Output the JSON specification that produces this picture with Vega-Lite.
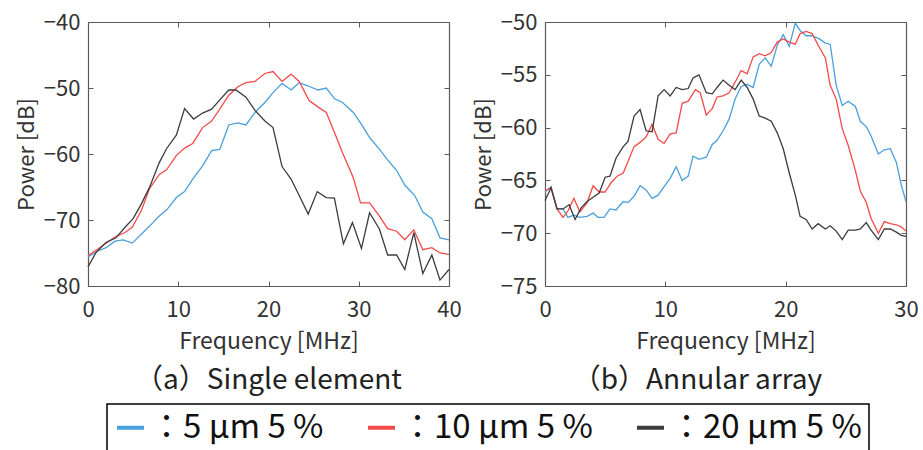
{
  "$schema": "https://vega.github.io/schema/vega-lite/v6.json",
  "padding": {"left": 15, "top": 11, "right": 4, "bottom": 0},
  "autosize": {"type": "pad"},
  "bounds": "flush",
  "spacing": 96,
  "datasets": {
    "single": [
      {"f":0,"p":-75.6,"s":"5 µm 5 %"},{"f":1.1,"p":-74.7,"s":"5 µm 5 %"},{"f":2.0,"p":-74.2,"s":"5 µm 5 %"},{"f":3.0,"p":-73.2,"s":"5 µm 5 %"},{"f":3.9,"p":-73.0,"s":"5 µm 5 %"},{"f":4.9,"p":-73.5,"s":"5 µm 5 %"},{"f":6.1,"p":-71.9,"s":"5 µm 5 %"},{"f":7.2,"p":-70.4,"s":"5 µm 5 %"},{"f":7.9,"p":-69.4,"s":"5 µm 5 %"},{"f":8.7,"p":-68.5,"s":"5 µm 5 %"},{"f":9.8,"p":-66.6,"s":"5 µm 5 %"},{"f":10.7,"p":-65.7,"s":"5 µm 5 %"},{"f":11.6,"p":-63.8,"s":"5 µm 5 %"},{"f":12.7,"p":-61.8,"s":"5 µm 5 %"},{"f":13.7,"p":-59.5,"s":"5 µm 5 %"},{"f":14.6,"p":-59.3,"s":"5 µm 5 %"},{"f":15.6,"p":-55.6,"s":"5 µm 5 %"},{"f":16.6,"p":-55.3,"s":"5 µm 5 %"},{"f":17.5,"p":-55.6,"s":"5 µm 5 %"},{"f":18.5,"p":-53.7,"s":"5 µm 5 %"},{"f":19.6,"p":-52.2,"s":"5 µm 5 %"},{"f":20.5,"p":-50.7,"s":"5 µm 5 %"},{"f":21.5,"p":-49.3,"s":"5 µm 5 %"},{"f":22.5,"p":-50.3,"s":"5 µm 5 %"},{"f":23.4,"p":-49.2,"s":"5 µm 5 %"},{"f":24.4,"p":-49.7,"s":"5 µm 5 %"},{"f":25.5,"p":-50.3,"s":"5 µm 5 %"},{"f":26.4,"p":-50.0,"s":"5 µm 5 %"},{"f":27.3,"p":-51.6,"s":"5 µm 5 %"},{"f":28.2,"p":-52.2,"s":"5 µm 5 %"},{"f":29.4,"p":-53.7,"s":"5 µm 5 %"},{"f":30.3,"p":-55.5,"s":"5 µm 5 %"},{"f":31.2,"p":-57.5,"s":"5 µm 5 %"},{"f":32.3,"p":-59.3,"s":"5 µm 5 %"},{"f":33.2,"p":-60.9,"s":"5 µm 5 %"},{"f":34.2,"p":-62.5,"s":"5 µm 5 %"},{"f":35.1,"p":-64.7,"s":"5 µm 5 %"},{"f":36.2,"p":-66.3,"s":"5 µm 5 %"},{"f":37.1,"p":-68.8,"s":"5 µm 5 %"},{"f":38.1,"p":-69.8,"s":"5 µm 5 %"},{"f":39.0,"p":-72.7,"s":"5 µm 5 %"},{"f":40,"p":-73.0,"s":"5 µm 5 %"},
      {"f":0,"p":-75.4,"s":"10 µm 5 %"},{"f":1.1,"p":-74.4,"s":"10 µm 5 %"},{"f":2.0,"p":-73.5,"s":"10 µm 5 %"},{"f":3.1,"p":-72.5,"s":"10 µm 5 %"},{"f":4.1,"p":-71.9,"s":"10 µm 5 %"},{"f":4.9,"p":-71.1,"s":"10 µm 5 %"},{"f":5.9,"p":-68.6,"s":"10 µm 5 %"},{"f":6.8,"p":-65.3,"s":"10 µm 5 %"},{"f":7.9,"p":-63.1,"s":"10 µm 5 %"},{"f":8.7,"p":-62.4,"s":"10 µm 5 %"},{"f":9.8,"p":-60.2,"s":"10 µm 5 %"},{"f":10.7,"p":-59.1,"s":"10 µm 5 %"},{"f":11.6,"p":-58.4,"s":"10 µm 5 %"},{"f":12.7,"p":-56.0,"s":"10 µm 5 %"},{"f":13.7,"p":-55.0,"s":"10 µm 5 %"},{"f":14.6,"p":-53.2,"s":"10 µm 5 %"},{"f":15.6,"p":-51.1,"s":"10 µm 5 %"},{"f":16.6,"p":-49.8,"s":"10 µm 5 %"},{"f":17.5,"p":-49.2,"s":"10 µm 5 %"},{"f":18.5,"p":-49.0,"s":"10 µm 5 %"},{"f":19.6,"p":-47.8,"s":"10 µm 5 %"},{"f":20.5,"p":-47.5,"s":"10 µm 5 %"},{"f":21.5,"p":-49.0,"s":"10 µm 5 %"},{"f":22.5,"p":-47.9,"s":"10 µm 5 %"},{"f":23.4,"p":-49.0,"s":"10 µm 5 %"},{"f":24.5,"p":-51.9,"s":"10 µm 5 %"},{"f":25.5,"p":-52.9,"s":"10 µm 5 %"},{"f":26.4,"p":-53.7,"s":"10 µm 5 %"},{"f":27.3,"p":-56.7,"s":"10 µm 5 %"},{"f":28.2,"p":-59.8,"s":"10 µm 5 %"},{"f":29.4,"p":-63.6,"s":"10 µm 5 %"},{"f":30.2,"p":-67.4,"s":"10 µm 5 %"},{"f":31.2,"p":-67.4,"s":"10 µm 5 %"},{"f":32.3,"p":-69.4,"s":"10 µm 5 %"},{"f":33.2,"p":-71.3,"s":"10 µm 5 %"},{"f":34.2,"p":-71.7,"s":"10 µm 5 %"},{"f":35.1,"p":-73.0,"s":"10 µm 5 %"},{"f":36.1,"p":-71.5,"s":"10 µm 5 %"},{"f":37.1,"p":-74.5,"s":"10 µm 5 %"},{"f":38.1,"p":-74.2,"s":"10 µm 5 %"},{"f":39.0,"p":-75.0,"s":"10 µm 5 %"},{"f":40,"p":-75.2,"s":"10 µm 5 %"},
      {"f":0,"p":-77.1,"s":"20 µm 5 %"},{"f":0.9,"p":-74.9,"s":"20 µm 5 %"},{"f":2.0,"p":-73.4,"s":"20 µm 5 %"},{"f":3.1,"p":-72.7,"s":"20 µm 5 %"},{"f":4.1,"p":-71.1,"s":"20 µm 5 %"},{"f":5.0,"p":-69.8,"s":"20 µm 5 %"},{"f":5.9,"p":-67.6,"s":"20 µm 5 %"},{"f":6.8,"p":-65.1,"s":"20 µm 5 %"},{"f":7.9,"p":-61.3,"s":"20 µm 5 %"},{"f":8.7,"p":-59.2,"s":"20 µm 5 %"},{"f":9.8,"p":-57.1,"s":"20 µm 5 %"},{"f":10.7,"p":-53.1,"s":"20 µm 5 %"},{"f":11.7,"p":-54.7,"s":"20 µm 5 %"},{"f":12.7,"p":-53.8,"s":"20 µm 5 %"},{"f":13.7,"p":-53.2,"s":"20 µm 5 %"},{"f":14.6,"p":-51.8,"s":"20 µm 5 %"},{"f":15.6,"p":-50.3,"s":"20 µm 5 %"},{"f":16.4,"p":-50.3,"s":"20 µm 5 %"},{"f":17.5,"p":-51.4,"s":"20 µm 5 %"},{"f":18.5,"p":-53.4,"s":"20 µm 5 %"},{"f":19.6,"p":-55.0,"s":"20 µm 5 %"},{"f":20.5,"p":-56.0,"s":"20 µm 5 %"},{"f":21.5,"p":-61.9,"s":"20 µm 5 %"},{"f":22.5,"p":-63.8,"s":"20 µm 5 %"},{"f":23.4,"p":-66.3,"s":"20 µm 5 %"},{"f":24.4,"p":-69.1,"s":"20 µm 5 %"},{"f":25.4,"p":-65.7,"s":"20 µm 5 %"},{"f":26.4,"p":-66.6,"s":"20 µm 5 %"},{"f":27.3,"p":-66.7,"s":"20 µm 5 %"},{"f":28.3,"p":-73.6,"s":"20 µm 5 %"},{"f":29.3,"p":-70.4,"s":"20 µm 5 %"},{"f":30.3,"p":-74.3,"s":"20 µm 5 %"},{"f":31.2,"p":-68.9,"s":"20 µm 5 %"},{"f":32.3,"p":-71.4,"s":"20 µm 5 %"},{"f":33.2,"p":-75.3,"s":"20 µm 5 %"},{"f":34.2,"p":-75.3,"s":"20 µm 5 %"},{"f":35.1,"p":-77.5,"s":"20 µm 5 %"},{"f":36.1,"p":-71.9,"s":"20 µm 5 %"},{"f":37.1,"p":-78.1,"s":"20 µm 5 %"},{"f":38.1,"p":-75.3,"s":"20 µm 5 %"},{"f":39.0,"p":-79.1,"s":"20 µm 5 %"},{"f":40,"p":-77.5,"s":"20 µm 5 %"}
    ],
    "annular": [
      {"f":0,"p":-66.1,"s":"5 µm 5 %"},{"f":0.5,"p":-65.6,"s":"5 µm 5 %"},{"f":1.0,"p":-67.7,"s":"5 µm 5 %"},{"f":1.5,"p":-67.7,"s":"5 µm 5 %"},{"f":1.9,"p":-68.5,"s":"5 µm 5 %"},{"f":2.4,"p":-68.3,"s":"5 µm 5 %"},{"f":2.9,"p":-68.5,"s":"5 µm 5 %"},{"f":3.5,"p":-68.4,"s":"5 µm 5 %"},{"f":4.0,"p":-68.1,"s":"5 µm 5 %"},{"f":4.4,"p":-68.5,"s":"5 µm 5 %"},{"f":4.9,"p":-68.5,"s":"5 µm 5 %"},{"f":5.4,"p":-67.7,"s":"5 µm 5 %"},{"f":5.9,"p":-67.8,"s":"5 µm 5 %"},{"f":6.5,"p":-67.0,"s":"5 µm 5 %"},{"f":6.9,"p":-67.1,"s":"5 µm 5 %"},{"f":7.4,"p":-66.5,"s":"5 µm 5 %"},{"f":7.9,"p":-65.5,"s":"5 µm 5 %"},{"f":8.4,"p":-65.9,"s":"5 µm 5 %"},{"f":8.9,"p":-66.7,"s":"5 µm 5 %"},{"f":9.4,"p":-66.4,"s":"5 µm 5 %"},{"f":9.9,"p":-65.6,"s":"5 µm 5 %"},{"f":10.4,"p":-64.8,"s":"5 µm 5 %"},{"f":10.9,"p":-63.7,"s":"5 µm 5 %"},{"f":11.4,"p":-65.0,"s":"5 µm 5 %"},{"f":11.9,"p":-64.6,"s":"5 µm 5 %"},{"f":12.3,"p":-62.7,"s":"5 µm 5 %"},{"f":12.8,"p":-63.0,"s":"5 µm 5 %"},{"f":13.4,"p":-62.8,"s":"5 µm 5 %"},{"f":13.9,"p":-61.6,"s":"5 µm 5 %"},{"f":14.3,"p":-61.2,"s":"5 µm 5 %"},{"f":14.8,"p":-60.3,"s":"5 µm 5 %"},{"f":15.3,"p":-59.2,"s":"5 µm 5 %"},{"f":15.8,"p":-57.3,"s":"5 µm 5 %"},{"f":16.3,"p":-56.1,"s":"5 µm 5 %"},{"f":16.8,"p":-55.9,"s":"5 µm 5 %"},{"f":17.3,"p":-56.2,"s":"5 µm 5 %"},{"f":17.8,"p":-54.0,"s":"5 µm 5 %"},{"f":18.3,"p":-53.4,"s":"5 µm 5 %"},{"f":18.8,"p":-54.2,"s":"5 µm 5 %"},{"f":19.3,"p":-52.2,"s":"5 µm 5 %"},{"f":19.8,"p":-51.2,"s":"5 µm 5 %"},{"f":20.3,"p":-52.3,"s":"5 µm 5 %"},{"f":20.8,"p":-50.1,"s":"5 µm 5 %"},{"f":21.2,"p":-50.8,"s":"5 µm 5 %"},{"f":21.7,"p":-51.3,"s":"5 µm 5 %"},{"f":22.2,"p":-51.3,"s":"5 µm 5 %"},{"f":22.8,"p":-51.6,"s":"5 µm 5 %"},{"f":23.3,"p":-52.0,"s":"5 µm 5 %"},{"f":23.7,"p":-52.1,"s":"5 µm 5 %"},{"f":24.2,"p":-56.0,"s":"5 µm 5 %"},{"f":24.7,"p":-57.9,"s":"5 µm 5 %"},{"f":25.2,"p":-57.5,"s":"5 µm 5 %"},{"f":25.8,"p":-58.0,"s":"5 µm 5 %"},{"f":26.2,"p":-59.4,"s":"5 µm 5 %"},{"f":26.7,"p":-59.9,"s":"5 µm 5 %"},{"f":27.1,"p":-60.8,"s":"5 µm 5 %"},{"f":27.7,"p":-62.5,"s":"5 µm 5 %"},{"f":28.2,"p":-62.1,"s":"5 µm 5 %"},{"f":28.7,"p":-62.0,"s":"5 µm 5 %"},{"f":29.2,"p":-63.3,"s":"5 µm 5 %"},{"f":29.6,"p":-65.4,"s":"5 µm 5 %"},{"f":30,"p":-67.0,"s":"5 µm 5 %"},
      {"f":0,"p":-66.0,"s":"10 µm 5 %"},{"f":0.5,"p":-65.7,"s":"10 µm 5 %"},{"f":1.0,"p":-67.7,"s":"10 µm 5 %"},{"f":1.5,"p":-68.5,"s":"10 µm 5 %"},{"f":1.9,"p":-67.9,"s":"10 µm 5 %"},{"f":2.4,"p":-66.7,"s":"10 µm 5 %"},{"f":2.9,"p":-68.0,"s":"10 µm 5 %"},{"f":3.5,"p":-67.1,"s":"10 µm 5 %"},{"f":4.0,"p":-65.5,"s":"10 µm 5 %"},{"f":4.5,"p":-66.1,"s":"10 µm 5 %"},{"f":5.0,"p":-66.1,"s":"10 µm 5 %"},{"f":5.5,"p":-65.2,"s":"10 µm 5 %"},{"f":6.0,"p":-64.6,"s":"10 µm 5 %"},{"f":6.5,"p":-64.3,"s":"10 µm 5 %"},{"f":6.9,"p":-63.2,"s":"10 µm 5 %"},{"f":7.4,"p":-61.8,"s":"10 µm 5 %"},{"f":7.9,"p":-61.4,"s":"10 µm 5 %"},{"f":8.4,"p":-60.9,"s":"10 µm 5 %"},{"f":8.9,"p":-59.7,"s":"10 µm 5 %"},{"f":9.4,"p":-61.1,"s":"10 µm 5 %"},{"f":9.9,"p":-61.5,"s":"10 µm 5 %"},{"f":10.4,"p":-60.6,"s":"10 µm 5 %"},{"f":10.9,"p":-60.5,"s":"10 µm 5 %"},{"f":11.4,"p":-57.7,"s":"10 µm 5 %"},{"f":11.9,"p":-57.5,"s":"10 µm 5 %"},{"f":12.5,"p":-56.4,"s":"10 µm 5 %"},{"f":12.9,"p":-56.7,"s":"10 µm 5 %"},{"f":13.4,"p":-58.8,"s":"10 µm 5 %"},{"f":13.9,"p":-58.2,"s":"10 µm 5 %"},{"f":14.3,"p":-57.1,"s":"10 µm 5 %"},{"f":14.8,"p":-57.0,"s":"10 µm 5 %"},{"f":15.3,"p":-56.7,"s":"10 µm 5 %"},{"f":15.8,"p":-55.7,"s":"10 µm 5 %"},{"f":16.3,"p":-54.6,"s":"10 µm 5 %"},{"f":16.8,"p":-54.9,"s":"10 µm 5 %"},{"f":17.3,"p":-53.3,"s":"10 µm 5 %"},{"f":17.8,"p":-53.0,"s":"10 µm 5 %"},{"f":18.3,"p":-53.2,"s":"10 µm 5 %"},{"f":18.8,"p":-52.9,"s":"10 µm 5 %"},{"f":19.3,"p":-51.9,"s":"10 µm 5 %"},{"f":19.8,"p":-51.6,"s":"10 µm 5 %"},{"f":20.3,"p":-51.9,"s":"10 µm 5 %"},{"f":20.8,"p":-52.1,"s":"10 µm 5 %"},{"f":21.2,"p":-51.1,"s":"10 µm 5 %"},{"f":21.7,"p":-50.9,"s":"10 µm 5 %"},{"f":22.2,"p":-51.1,"s":"10 µm 5 %"},{"f":22.7,"p":-52.2,"s":"10 µm 5 %"},{"f":23.3,"p":-53.4,"s":"10 µm 5 %"},{"f":23.7,"p":-56.0,"s":"10 µm 5 %"},{"f":24.2,"p":-57.3,"s":"10 µm 5 %"},{"f":24.7,"p":-60.1,"s":"10 µm 5 %"},{"f":25.2,"p":-61.7,"s":"10 µm 5 %"},{"f":25.8,"p":-64.1,"s":"10 µm 5 %"},{"f":26.2,"p":-66.0,"s":"10 µm 5 %"},{"f":26.7,"p":-67.1,"s":"10 µm 5 %"},{"f":27.1,"p":-68.6,"s":"10 µm 5 %"},{"f":27.7,"p":-70.0,"s":"10 µm 5 %"},{"f":28.2,"p":-68.9,"s":"10 µm 5 %"},{"f":28.7,"p":-69.1,"s":"10 µm 5 %"},{"f":29.2,"p":-69.2,"s":"10 µm 5 %"},{"f":29.6,"p":-69.4,"s":"10 µm 5 %"},{"f":30,"p":-69.8,"s":"10 µm 5 %"},
      {"f":0,"p":-66.9,"s":"20 µm 5 %"},{"f":0.5,"p":-65.7,"s":"20 µm 5 %"},{"f":1.0,"p":-67.7,"s":"20 µm 5 %"},{"f":1.5,"p":-67.7,"s":"20 µm 5 %"},{"f":2.0,"p":-67.3,"s":"20 µm 5 %"},{"f":2.5,"p":-68.7,"s":"20 µm 5 %"},{"f":3.0,"p":-67.6,"s":"20 µm 5 %"},{"f":3.5,"p":-67.0,"s":"20 µm 5 %"},{"f":4.0,"p":-66.6,"s":"20 µm 5 %"},{"f":4.5,"p":-66.2,"s":"20 µm 5 %"},{"f":5.0,"p":-64.7,"s":"20 µm 5 %"},{"f":5.4,"p":-64.6,"s":"20 µm 5 %"},{"f":5.9,"p":-62.9,"s":"20 µm 5 %"},{"f":6.5,"p":-61.8,"s":"20 µm 5 %"},{"f":6.9,"p":-61.3,"s":"20 µm 5 %"},{"f":7.4,"p":-58.9,"s":"20 µm 5 %"},{"f":7.9,"p":-58.3,"s":"20 µm 5 %"},{"f":8.4,"p":-60.3,"s":"20 µm 5 %"},{"f":8.9,"p":-60.4,"s":"20 µm 5 %"},{"f":9.4,"p":-57.0,"s":"20 µm 5 %"},{"f":9.9,"p":-56.4,"s":"20 µm 5 %"},{"f":10.4,"p":-57.0,"s":"20 µm 5 %"},{"f":10.9,"p":-56.2,"s":"20 µm 5 %"},{"f":11.4,"p":-56.4,"s":"20 µm 5 %"},{"f":11.9,"p":-56.3,"s":"20 µm 5 %"},{"f":12.3,"p":-55.3,"s":"20 µm 5 %"},{"f":12.8,"p":-55.0,"s":"20 µm 5 %"},{"f":13.4,"p":-56.7,"s":"20 µm 5 %"},{"f":13.9,"p":-56.8,"s":"20 µm 5 %"},{"f":14.3,"p":-56.2,"s":"20 µm 5 %"},{"f":14.8,"p":-55.5,"s":"20 µm 5 %"},{"f":15.3,"p":-56.0,"s":"20 µm 5 %"},{"f":15.8,"p":-56.4,"s":"20 µm 5 %"},{"f":16.3,"p":-55.5,"s":"20 µm 5 %"},{"f":16.8,"p":-56.2,"s":"20 µm 5 %"},{"f":17.3,"p":-57.3,"s":"20 µm 5 %"},{"f":17.8,"p":-58.9,"s":"20 µm 5 %"},{"f":18.3,"p":-59.1,"s":"20 µm 5 %"},{"f":18.8,"p":-59.4,"s":"20 µm 5 %"},{"f":19.3,"p":-60.5,"s":"20 µm 5 %"},{"f":19.8,"p":-62.0,"s":"20 µm 5 %"},{"f":20.3,"p":-64.3,"s":"20 µm 5 %"},{"f":20.8,"p":-66.4,"s":"20 µm 5 %"},{"f":21.2,"p":-68.4,"s":"20 µm 5 %"},{"f":21.7,"p":-68.7,"s":"20 µm 5 %"},{"f":22.2,"p":-69.6,"s":"20 µm 5 %"},{"f":22.7,"p":-69.1,"s":"20 µm 5 %"},{"f":23.3,"p":-69.6,"s":"20 µm 5 %"},{"f":23.7,"p":-69.3,"s":"20 µm 5 %"},{"f":24.2,"p":-69.8,"s":"20 µm 5 %"},{"f":24.7,"p":-70.6,"s":"20 µm 5 %"},{"f":25.2,"p":-69.7,"s":"20 µm 5 %"},{"f":25.8,"p":-69.7,"s":"20 µm 5 %"},{"f":26.2,"p":-69.6,"s":"20 µm 5 %"},{"f":26.7,"p":-69.0,"s":"20 µm 5 %"},{"f":27.1,"p":-69.7,"s":"20 µm 5 %"},{"f":27.7,"p":-70.6,"s":"20 µm 5 %"},{"f":28.2,"p":-69.6,"s":"20 µm 5 %"},{"f":28.7,"p":-69.6,"s":"20 µm 5 %"},{"f":29.2,"p":-69.9,"s":"20 µm 5 %"},{"f":29.6,"p":-70.2,"s":"20 µm 5 %"},{"f":30,"p":-70.3,"s":"20 µm 5 %"}
    ]
  },
  "hconcat": [
    {
      "width": 361, "height": 264,
      "data": {"name": "single"},
      "title": {"text": "（a）Single element", "orient": "bottom"},
      "layer": [
        {
          "mark": {"type": "line", "strokeWidth": 1.3},
          "encoding": {
            "x": {"field": "f", "type": "quantitative", "scale": {"domain": [0, 40], "nice": false}, "axis": {"values": [0, 10, 20, 30, 40], "title": "Frequency [MHz]"}},
            "y": {"field": "p", "type": "quantitative", "scale": {"domain": [-80, -40], "nice": false, "zero": false}, "axis": {"values": [-80, -70, -60, -50, -40], "title": "Power [dB]"}},
            "color": {"field": "s", "type": "nominal", "sort": null,
              "scale": {"domain": ["5 µm 5 %", "10 µm 5 %", "20 µm 5 %"], "range": ["#4a9fdc", "#f44a4a", "#3c3c3c"]},
              "legend": {"orient": "none", "legendX": 19, "legendY": 382, "direction": "horizontal", "title": null, "labelExpr": "'：' + datum.label"}
            }
          }
        },
        {
          "mark": {"type": "line", "opacity": 0},
          "encoding": {
            "x": {"field": "f", "type": "quantitative", "scale": {"domain": [0, 40], "nice": false}, "axis": {"orient": "top", "values": [0, 10, 20, 30, 40], "labels": false, "title": null}},
            "y": {"field": "p", "type": "quantitative", "scale": {"domain": [-80, -40], "nice": false, "zero": false}, "axis": {"orient": "right", "values": [-80, -70, -60, -50, -40], "labels": false, "title": null}},
            "detail": {"field": "s"}
          }
        }
      ],
      "resolve": {"axis": {"x": "independent", "y": "independent"}}
    },
    {
      "width": 361, "height": 264,
      "data": {"name": "annular"},
      "title": {"text": "（b）Annular array", "orient": "bottom", "dx": -28},
      "layer": [
        {
          "mark": {"type": "line", "strokeWidth": 1.3},
          "encoding": {
            "x": {"field": "f", "type": "quantitative", "scale": {"domain": [0, 30], "nice": false}, "axis": {"values": [0, 10, 20, 30], "title": "Frequency [MHz]"}},
            "y": {"field": "p", "type": "quantitative", "scale": {"domain": [-75, -50], "nice": false, "zero": false}, "axis": {"values": [-75, -70, -65, -60, -55, -50], "title": "Power [dB]"}},
            "color": {"field": "s", "type": "nominal", "sort": null,
              "scale": {"domain": ["5 µm 5 %", "10 µm 5 %", "20 µm 5 %"], "range": ["#4a9fdc", "#f44a4a", "#3c3c3c"]}}
          }
        },
        {
          "mark": {"type": "line", "opacity": 0},
          "encoding": {
            "x": {"field": "f", "type": "quantitative", "scale": {"domain": [0, 30], "nice": false}, "axis": {"orient": "top", "values": [0, 10, 20, 30], "labels": false, "title": null}},
            "y": {"field": "p", "type": "quantitative", "scale": {"domain": [-75, -50], "nice": false, "zero": false}, "axis": {"orient": "right", "values": [-75, -70, -65, -60, -55, -50], "labels": false, "title": null}},
            "detail": {"field": "s"}
          }
        }
      ],
      "resolve": {"axis": {"x": "independent", "y": "independent"}}
    }
  ],
  "config": {
    "font": "Noto Sans CJK JP",
    "view": {"stroke": null},
    "axis": {"grid": false, "domainColor": "#5a5a5a", "domainWidth": 1.2, "tickColor": "#5a5a5a", "tickSize": -5, "tickWidth": 1,
      "labelFont": "Noto Sans CJK JP", "labelFontSize": 22, "labelColor": "#333333", "labelFlush": false,
      "titleFont": "Noto Sans CJK JP", "titleFontSize": 22, "titleFontWeight": "normal", "titleColor": "#333333"},
    "axisX": {"labelPadding": 18, "titlePadding": 10, "titleFontSize": 23},
    "axisY": {"labelPadding": 13, "titlePadding": 5},
    "title": {"font": "Noto Sans CJK JP", "fontSize": 28, "fontWeight": "normal", "color": "#222222", "offset": 14},
    "legend": {"symbolType": "stroke", "symbolSize": 729, "symbolStrokeWidth": 4, "labelFont": "Noto Sans CJK JP", "labelFontSize": 33, "labelColor": "#111111", "labelLimit": 400, "labelOffset": 3, "columnPadding": 36, "padding": 7, "strokeColor": "#000000", "strokeWidth": 1.5}
  }
}
